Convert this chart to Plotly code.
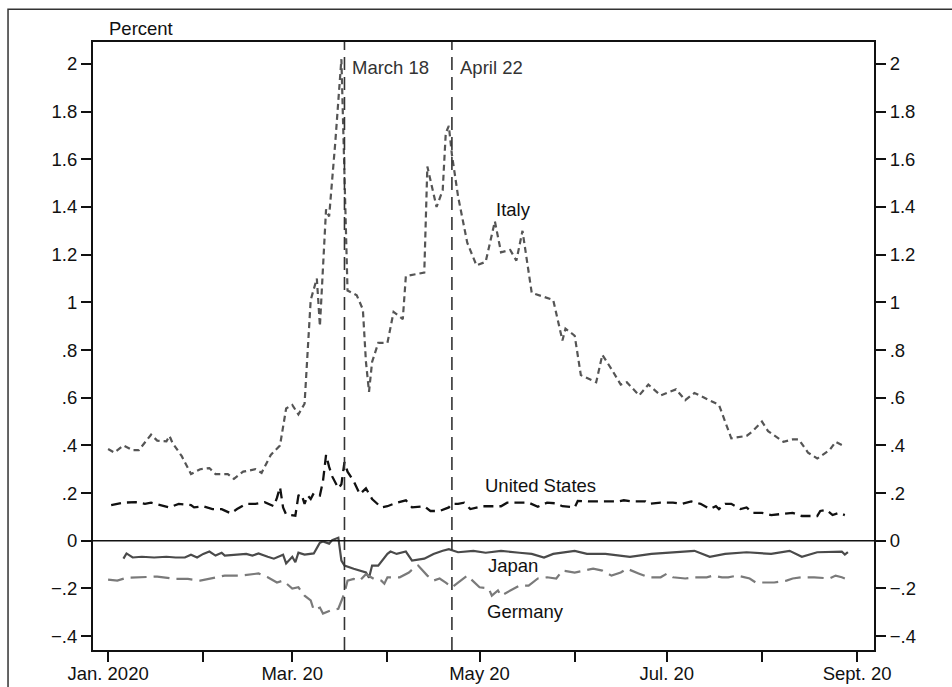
import plotly.graph_objects as go

# ---- data: daily yield spread (percent), 2020 ----
italy_dates = ["2020-01-01", "2020-01-03", "2020-01-06", "2020-01-09", "2020-01-11", "2020-01-15",
               "2020-01-17", "2020-01-20", "2020-01-21", "2020-01-22", "2020-01-25", "2020-01-28",
               "2020-01-31", "2020-02-03", "2020-02-05", "2020-02-09", "2020-02-11", "2020-02-14",
               "2020-02-18", "2020-02-20", "2020-02-23", "2020-02-26", "2020-02-28", "2020-03-01",
               "2020-03-03", "2020-03-05", "2020-03-07", "2020-03-09", "2020-03-10", "2020-03-12",
               "2020-03-13", "2020-03-15", "2020-03-17", "2020-03-19", "2020-03-22", "2020-03-24",
               "2020-03-25", "2020-03-26", "2020-03-27", "2020-03-29", "2020-04-01", "2020-04-03",
               "2020-04-06", "2020-04-07", "2020-04-13", "2020-04-14", "2020-04-17", "2020-04-19",
               "2020-04-20", "2020-04-21", "2020-04-22", "2020-04-24", "2020-04-27", "2020-04-30",
               "2020-05-03", "2020-05-06", "2020-05-08", "2020-05-11", "2020-05-13", "2020-05-15",
               "2020-05-18", "2020-05-25", "2020-05-28", "2020-05-29", "2020-06-01", "2020-06-03",
               "2020-06-08", "2020-06-10", "2020-06-13", "2020-06-16", "2020-06-18", "2020-06-22",
               "2020-06-25", "2020-06-29", "2020-07-04", "2020-07-07", "2020-07-10", "2020-07-15",
               "2020-07-18", "2020-07-22", "2020-07-27", "2020-07-29", "2020-08-01", "2020-08-03",
               "2020-08-08", "2020-08-11", "2020-08-13", "2020-08-16", "2020-08-19", "2020-08-23",
               "2020-08-25", "2020-08-28"]
italy_vals = [0.385, 0.37, 0.40, 0.38, 0.38, 0.445,
              0.42, 0.417, 0.44, 0.41, 0.355, 0.28,
              0.30, 0.305, 0.28, 0.28, 0.26, 0.29,
              0.30, 0.285, 0.36, 0.40, 0.555, 0.57,
              0.53, 0.575, 1.01, 1.10, 0.90, 1.39,
              1.36, 1.67, 2.02, 1.05, 1.03, 0.97,
              0.75, 0.625, 0.75, 0.83, 0.83, 0.96,
              0.93, 1.11, 1.125, 1.57, 1.40, 1.47,
              1.71, 1.74, 1.62, 1.445, 1.25, 1.155,
              1.17, 1.34, 1.21, 1.22, 1.175, 1.30,
              1.04, 1.01, 0.84, 0.89, 0.86, 0.695,
              0.665, 0.78, 0.72, 0.655, 0.665, 0.61,
              0.655, 0.61, 0.635, 0.59, 0.62, 0.59,
              0.57, 0.43, 0.44, 0.46, 0.50, 0.46,
              0.415, 0.425, 0.425, 0.37, 0.345, 0.38,
              0.415, 0.395]

us_dates = ["2020-01-02", "2020-01-06", "2020-01-10", "2020-01-13", "2020-01-15", "2020-01-18",
            "2020-01-21", "2020-01-24", "2020-01-28", "2020-01-29", "2020-02-01", "2020-02-04",
            "2020-02-07", "2020-02-10", "2020-02-12", "2020-02-15", "2020-02-18", "2020-02-21",
            "2020-02-24", "2020-02-25", "2020-02-26", "2020-02-27", "2020-02-28", "2020-03-02",
            "2020-03-03", "2020-03-04", "2020-03-05", "2020-03-06", "2020-03-07", "2020-03-08",
            "2020-03-10", "2020-03-11", "2020-03-12", "2020-03-13", "2020-03-14", "2020-03-16",
            "2020-03-17", "2020-03-18", "2020-03-19", "2020-03-21", "2020-03-23", "2020-03-25",
            "2020-03-27", "2020-03-30", "2020-04-01", "2020-04-04", "2020-04-07", "2020-04-09",
            "2020-04-13", "2020-04-15", "2020-04-18", "2020-04-21", "2020-04-22", "2020-04-24",
            "2020-04-26", "2020-04-28", "2020-05-02", "2020-05-05", "2020-05-08", "2020-05-10",
            "2020-05-14", "2020-05-17", "2020-05-20", "2020-05-23", "2020-05-26", "2020-05-28",
            "2020-06-01", "2020-06-02", "2020-06-06", "2020-06-10", "2020-06-15", "2020-06-17",
            "2020-06-20", "2020-06-24", "2020-06-25", "2020-06-29", "2020-07-03", "2020-07-06",
            "2020-07-09", "2020-07-12", "2020-07-15", "2020-07-17", "2020-07-18", "2020-07-20",
            "2020-07-22", "2020-07-25", "2020-07-27", "2020-07-29", "2020-08-01", "2020-08-04",
            "2020-08-08", "2020-08-11", "2020-08-14", "2020-08-17", "2020-08-19", "2020-08-20",
            "2020-08-22", "2020-08-24", "2020-08-26", "2020-08-28"]
us_vals = [0.15, 0.16, 0.162, 0.155, 0.16, 0.15,
           0.14, 0.155, 0.15, 0.14, 0.145, 0.133,
           0.133, 0.115, 0.133, 0.155, 0.155, 0.162,
           0.145, 0.18, 0.225, 0.14, 0.11, 0.105,
           0.19, 0.195, 0.155, 0.19, 0.175, 0.20,
           0.19, 0.25, 0.36, 0.31, 0.27, 0.22,
           0.237, 0.33, 0.29, 0.25, 0.195, 0.22,
           0.175, 0.14, 0.145, 0.16, 0.17, 0.14,
           0.145, 0.125, 0.125, 0.14, 0.155, 0.155,
           0.16, 0.133, 0.145, 0.145, 0.145, 0.16,
           0.16, 0.16, 0.143, 0.16, 0.157, 0.145,
           0.14, 0.167, 0.165, 0.165, 0.165, 0.17,
           0.165, 0.165, 0.155, 0.16, 0.16, 0.155,
           0.165, 0.155, 0.133, 0.145, 0.133, 0.155,
           0.155, 0.133, 0.14, 0.117, 0.117, 0.108,
           0.112, 0.117, 0.104, 0.104, 0.104, 0.125,
           0.13, 0.108, 0.117, 0.108]

japan_dates = ["2020-01-06", "2020-01-07", "2020-01-09", "2020-01-12", "2020-01-16", "2020-01-20",
               "2020-01-23", "2020-01-26", "2020-01-28", "2020-01-30", "2020-02-01", "2020-02-03",
               "2020-02-05", "2020-02-07", "2020-02-08", "2020-02-12", "2020-02-15", "2020-02-17",
               "2020-02-19", "2020-02-22", "2020-02-24", "2020-02-27", "2020-02-28", "2020-03-01",
               "2020-03-02", "2020-03-03", "2020-03-05", "2020-03-08", "2020-03-10", "2020-03-11",
               "2020-03-13", "2020-03-14", "2020-03-16", "2020-03-17", "2020-03-18", "2020-03-21",
               "2020-03-25", "2020-03-26", "2020-03-27", "2020-03-29", "2020-04-01", "2020-04-02",
               "2020-04-04", "2020-04-07", "2020-04-09", "2020-04-13", "2020-04-16", "2020-04-19",
               "2020-04-21", "2020-04-24", "2020-04-29", "2020-05-03", "2020-05-08", "2020-05-14",
               "2020-05-18", "2020-05-22", "2020-05-25", "2020-06-01", "2020-06-05", "2020-06-11",
               "2020-06-19", "2020-06-26", "2020-07-05", "2020-07-10", "2020-07-15", "2020-07-20",
               "2020-07-27", "2020-08-04", "2020-08-10", "2020-08-14", "2020-08-19", "2020-08-24",
               "2020-08-27", "2020-08-28", "2020-08-29"]
japan_vals = [-0.075, -0.053, -0.07, -0.067, -0.07, -0.067,
              -0.07, -0.07, -0.058, -0.07, -0.055, -0.045,
              -0.062, -0.05, -0.062, -0.058, -0.055, -0.062,
              -0.053, -0.067, -0.075, -0.058, -0.095, -0.067,
              -0.09, -0.05, -0.058, -0.053, -0.008, -0.003,
              -0.012, 0.003, 0.013, -0.083, -0.104, -0.117,
              -0.133, -0.155, -0.104, -0.104, -0.055, -0.045,
              -0.055, -0.045, -0.083, -0.075, -0.055, -0.042,
              -0.035, -0.048, -0.042, -0.05, -0.042, -0.05,
              -0.055, -0.07, -0.055, -0.042, -0.055, -0.055,
              -0.067, -0.055, -0.048, -0.042, -0.067, -0.055,
              -0.048, -0.055, -0.042, -0.067, -0.048, -0.045,
              -0.045, -0.058, -0.048]

germany_dates = ["2020-01-01", "2020-01-04", "2020-01-07", "2020-01-12", "2020-01-17", "2020-01-23",
                 "2020-01-27", "2020-01-31", "2020-02-04", "2020-02-08", "2020-02-13", "2020-02-17",
                 "2020-02-19", "2020-02-22", "2020-02-25", "2020-02-27", "2020-03-01", "2020-03-03",
                 "2020-03-05", "2020-03-07", "2020-03-08", "2020-03-10", "2020-03-11", "2020-03-14",
                 "2020-03-16", "2020-03-18", "2020-03-19", "2020-03-21", "2020-03-23", "2020-03-25",
                 "2020-03-28", "2020-03-30", "2020-03-31", "2020-04-01", "2020-04-05", "2020-04-08",
                 "2020-04-10", "2020-04-11", "2020-04-14", "2020-04-16", "2020-04-18", "2020-04-20",
                 "2020-04-22", "2020-04-24", "2020-04-27", "2020-05-01", "2020-05-04", "2020-05-05",
                 "2020-05-07", "2020-05-08", "2020-05-10", "2020-05-14", "2020-05-17", "2020-05-20",
                 "2020-05-23", "2020-05-26", "2020-05-28", "2020-06-01", "2020-06-04", "2020-06-07",
                 "2020-06-10", "2020-06-13", "2020-06-16", "2020-06-18", "2020-06-22", "2020-06-25",
                 "2020-06-29", "2020-07-01", "2020-07-03", "2020-07-07", "2020-07-10", "2020-07-14",
                 "2020-07-16", "2020-07-19", "2020-07-21", "2020-07-24", "2020-07-28", "2020-07-30",
                 "2020-08-02", "2020-08-05", "2020-08-09", "2020-08-11", "2020-08-14", "2020-08-18",
                 "2020-08-23", "2020-08-25", "2020-08-27", "2020-08-28"]
germany_vals = [-0.163, -0.167, -0.155, -0.153, -0.15, -0.16,
                -0.16, -0.167, -0.155, -0.146, -0.146, -0.138,
                -0.137, -0.153, -0.175, -0.167, -0.20, -0.195,
                -0.23, -0.25, -0.29, -0.28, -0.305, -0.29,
                -0.285, -0.22, -0.167, -0.16, -0.167, -0.14,
                -0.163, -0.167, -0.18, -0.153, -0.153, -0.133,
                -0.11, -0.104, -0.146, -0.167, -0.158, -0.175,
                -0.195, -0.175, -0.146, -0.195, -0.20, -0.23,
                -0.208, -0.23, -0.215, -0.188, -0.188, -0.158,
                -0.153, -0.158, -0.125, -0.133, -0.125, -0.117,
                -0.125, -0.146, -0.133, -0.117, -0.138, -0.153,
                -0.153, -0.138, -0.153, -0.158, -0.153, -0.153,
                -0.146, -0.153, -0.153, -0.146, -0.158, -0.175,
                -0.175, -0.175, -0.167, -0.158, -0.153, -0.153,
                -0.158, -0.146, -0.153, -0.158]

# event markers
event_dates = ["2020-03-18", "2020-04-22"]
event_labels = ["March 18", "April 22"]

# axis ticks
x_tickvals = ["2020-01-01", "2020-02-01", "2020-03-01", "2020-04-01", "2020-05-01",
              "2020-06-01", "2020-07-01", "2020-08-01", "2020-09-01"]
x_ticktext = ["Jan. 2020", "", "Mar. 20", "", "May 20", "", "Jul. 20", "", "Sept. 20"]
y_tickvals = [2, 1.8, 1.6, 1.4, 1.2, 1, 0.8, 0.6, 0.4, 0.2, 0, -0.2, -0.4]
y_ticktext = ["2", "1.8", "1.6", "1.4", "1.2", "1", ".8", ".6", ".4", ".2", "0", "\u2212.2", "\u2212.4"]

# series labels placed beside the lines
series_labels = ["Italy", "United States", "Japan", "Germany"]
label_dates = ["2020-05-12", "2020-05-21", "2020-05-12", "2020-05-16"]
label_vals = [1.39, 0.233, -0.104, -0.296]

FONT = "Liberation Sans, Arial, Helvetica, sans-serif"
FS = 18.5
X_RANGE = ["2019-12-27 02:00", "2020-09-06 12:00"]
Y_RANGE = [-0.458, 2.092]

fig = go.Figure()

fig.add_trace(go.Scatter(x=italy_dates, y=italy_vals, mode="lines", name="Italy",
                         line=dict(color="#555555", width=2.2, dash="6px,4px")))
fig.add_trace(go.Scatter(x=us_dates, y=us_vals, mode="lines", name="United States",
                         line=dict(color="#111111", width=2.3, dash="10px,6px")))
fig.add_trace(go.Scatter(x=japan_dates, y=japan_vals, mode="lines", name="Japan",
                         line=dict(color="#4a4a4a", width=2.2)))
fig.add_trace(go.Scatter(x=germany_dates, y=germany_vals, mode="lines", name="Germany",
                         line=dict(color="#7a7a7a", width=2.2, dash="16px,7px")))
# carrier for the right-hand axis
fig.add_trace(go.Scatter(x=italy_dates, y=italy_vals, mode="lines", yaxis="y2",
                         line=dict(width=0, color="rgba(0,0,0,0)"), hoverinfo="skip",
                         showlegend=False))

shapes = []
# vertical event lines
for d in event_dates:
    shapes.append(dict(type="line", xref="x", yref="paper", x0=d, x1=d, y0=0, y1=1,
                       line=dict(color="#333333", width=1.6, dash="13px,7px")))
# zero line
shapes.append(dict(type="line", xref="paper", yref="y", x0=0, x1=1, y0=0, y1=0,
                   line=dict(color="#111111", width=1.5)))
# outer frame
shapes.append(dict(type="rect", xref="paper", yref="paper", x0=-0.1088, x1=1.12,
                   y0=-0.1, y1=1.054, line=dict(color="#333333", width=1.5), layer="below"))

annotations = [dict(text="Percent", xref="paper", yref="paper", x=0.018, y=1.023,
                    xanchor="left", yanchor="middle", showarrow=False,
                    font=dict(family=FONT, size=FS, color="#111111"))]
for d, lab in zip(event_dates, event_labels):
    annotations.append(dict(text=lab, xref="x", yref="y", x=d, y=1.985, xanchor="left",
                            yanchor="middle", xshift=6, showarrow=False,
                            font=dict(family=FONT, size=FS, color="#333333")))
for lab, d, v in zip(series_labels, label_dates, label_vals):
    annotations.append(dict(text=lab, xref="x", yref="y", x=d, y=v, xanchor="center",
                            yanchor="middle", showarrow=False,
                            font=dict(family=FONT, size=FS, color="#111111")))

axis_common = dict(showgrid=False, zeroline=False, showline=True, linecolor="#111111",
                   linewidth=2, ticks="outside", ticklen=10, tickwidth=1.8, automargin=False,
                   tickcolor="#111111", tickfont=dict(family=FONT, size=FS, color="#111111"))

fig.update_layout(
    width=952, height=687,
    margin=dict(l=93, r=78, t=42, b=37, autoexpand=False),
    paper_bgcolor="white", plot_bgcolor="white",
    showlegend=False,
    xaxis=dict(type="date", range=X_RANGE, tickmode="array", tickvals=x_tickvals,
               ticktext=x_ticktext, mirror=True, ticklabelstandoff=-4, **axis_common),
    yaxis=dict(range=Y_RANGE, tickmode="array", tickvals=y_tickvals, ticktext=y_ticktext,
               side="left", **axis_common),
    yaxis2=dict(range=Y_RANGE, tickmode="array", tickvals=y_tickvals, ticktext=y_ticktext,
                side="right", overlaying="y", **axis_common),
    shapes=shapes,
    annotations=annotations,
    font=dict(family=FONT, size=FS, color="#111111"),
)

fig.write_html("out.html")
